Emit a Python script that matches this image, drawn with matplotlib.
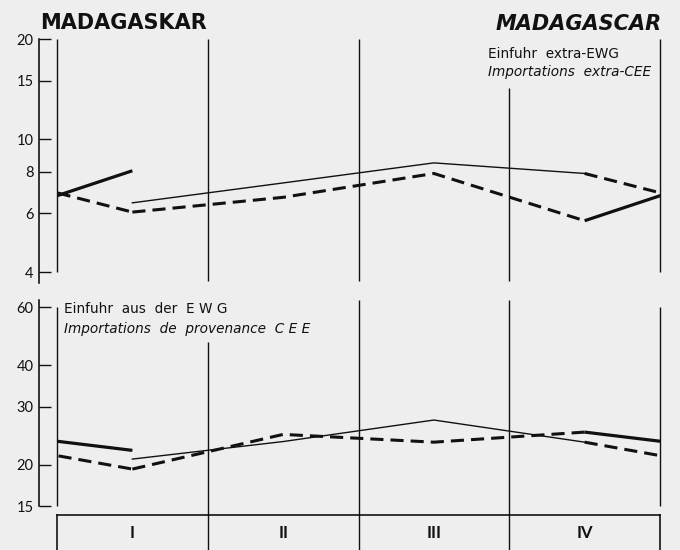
import numpy as np
import matplotlib.pyplot as plt
from matplotlib.ticker import NullLocator

plt.rcParams['font.family'] = ['Lato', 'DejaVu Sans']

quarters = ['I', 'II', 'III', 'IV']

# Einfuhr extra-EWG, three consecutive years by quarter
extra_y1 = [6.45, 7.4, 8.5, 7.9]
extra_y2 = [6.05, 6.7, 7.9, 5.7]
extra_y3 = [8.05]

# Einfuhr aus der EWG
ewg_y1 = [20.8, 23.5, 27.3, 23.4]
ewg_y2 = [19.4, 24.7, 23.4, 25.1]
ewg_y3 = [22.1]

top_ticks = [4, 6, 8, 10, 15, 20]
bot_ticks = [15, 20, 30, 40, 60]

W, H = 680, 550
xq = np.arange(4) + 0.5
ink = '#111111'

thin = dict(color=ink, lw=1.0)
dash = dict(color=ink, lw=2.2, dashes=(4.3, 2.3))
thick = dict(color=ink, lw=2.3, solid_capstyle='butt')


def box(x0, y0, x1, y1):
    return [x0 / W, 1 - y1 / H, (x1 - x0) / W, (y1 - y0) / H]


def setup(ax, lo, hi, ticks, spine_lo, spine_hi):
    ax.set_facecolor('none')
    ax.set_xlim(0, 4)
    ax.set_yscale('log')
    ax.set_ylim(lo, hi)
    for s in ['top', 'right', 'bottom']:
        ax.spines[s].set_visible(False)
    ax.spines['left'].set_position(('outward', 13))
    ax.spines['left'].set_bounds(spine_lo, spine_hi)
    ax.spines['left'].set_linewidth(1.1)
    ax.set_xticks([])
    ax.set_yticks(ticks)
    ax.set_yticklabels([str(t) for t in ticks])
    ax.yaxis.set_minor_locator(NullLocator())
    ax.tick_params(axis='y', direction='in', length=8.5, width=1.0,
                   labelsize=10.5, pad=4, colors=ink)


def draw_years(ax, y1, y2, y3):
    ax.plot(xq, y1, **thin)
    ax.plot(xq, y2, **dash)
    ax.plot(xq[:len(y3)], y3, **thick)
    # links from Q4 to the next year's Q1, split at the chart edges
    ax.plot([xq[-1], xq[-1] + 1], [y1[-1], y2[0]], **dash)
    ax.plot([xq[0] - 1, xq[0]], [y1[-1], y2[0]], **dash)
    ax.plot([xq[-1], xq[-1] + 1], [y2[-1], y3[0]], **thick)
    ax.plot([xq[0] - 1, xq[0]], [y2[-1], y3[0]], **thick)


fig = plt.figure(figsize=(W / 100, H / 100), dpi=100)
fig.patch.set_facecolor('#eeeeee')

ax_top = fig.add_axes(box(57, 39, 660, 272))
ax_bot = fig.add_axes(box(57, 307, 660, 506))
ax_lab = fig.add_axes(box(57, 515, 660, 565))

setup(ax_top, 4, 20, top_ticks, 3.7, 20)
setup(ax_bot, 15, 60, bot_ticks, 15, 63)

vl = dict(color=ink, lw=1.0, clip_on=False)
ax_top.vlines([0, 4], 4, 20, **vl)
ax_top.vlines([1, 2], 3.75, 20, **vl)
ax_top.vlines(3, 3.75, 14.3, **vl)
ax_bot.vlines([0, 4], 15, 60, **vl)
ax_bot.vlines(1, 14.1, 47, **vl)
ax_bot.vlines([2, 3], 14.1, 63, **vl)

draw_years(ax_top, extra_y1, extra_y2, extra_y3)
draw_years(ax_bot, ewg_y1, ewg_y2, ewg_y3)

# quarter label strip
ax_lab.set_facecolor('none')
ax_lab.set_xlim(0, 4)
ax_lab.set_ylim(0, 1)
ax_lab.set_xticks([])
ax_lab.set_yticks([])
ax_lab.spines['bottom'].set_visible(False)
for s in ['top', 'left', 'right']:
    ax_lab.spines[s].set_linewidth(1.1)
ax_lab.vlines([1, 2, 3], 0, 1, color=ink, lw=1.0)
for i, q in enumerate(quarters):
    ax_lab.text(xq[i], 0.64, q, ha='center', va='center', fontsize=12,
                fontweight='bold', color=ink)

title = dict(family='DejaVu Sans', fontsize=15, fontweight='bold', color=ink)
fig.text(40 / W, 1 - 29 / H, 'MADAGASKAR', **title)
fig.text(662 / W, 1 - 30 / H, 'MADAGASCAR', style='italic', ha='right',
         **title)

note = dict(family='DejaVu Sans', fontsize=9.8, color=ink)
fig.text(488 / W, 1 - 58 / H, 'Einfuhr  extra-EWG', **note)
fig.text(488 / W, 1 - 76 / H, 'Importations  extra-CEE', style='italic',
         **note)
fig.text(64 / W, 1 - 313 / H, 'Einfuhr  aus  der  E W G', **note)
fig.text(64 / W, 1 - 333 / H, 'Importations  de  provenance  C E E',
         style='italic', **note)

fig.savefig('out.png', dpi=100, facecolor=fig.get_facecolor())
